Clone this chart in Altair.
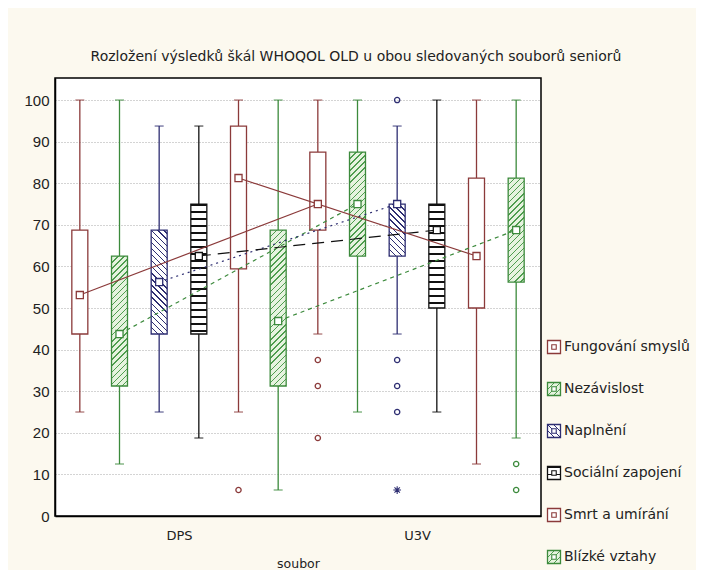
import math
import altair as alt
import pandas as pd

# ---------------- data ----------------
groups = ["DPS", "U3V"]
variables = ["Fungování smyslů", "Nezávislost", "Naplnění",
             "Sociální zapojení", "Smrt a umírání", "Blízké vztahy"]

# six DPS boxes followed by six U3V boxes (same variable order)
box_min = [25, 12.5, 25, 18.75, 25, 6.25, 43.75, 25, 43.75, 25, 12.5, 18.75]
box_q1 = [43.75, 31.25, 43.75, 43.75, 59.4, 31.25, 68.75, 62.5, 62.5, 50, 50, 56.25]
box_med = [53.125, 43.75, 56.25, 62.5, 81.25, 46.875, 75, 75, 75, 68.75, 62.5, 68.75]
box_q3 = [68.75, 62.5, 68.75, 75, 93.75, 68.75, 87.5, 87.5, 75, 75, 81.25, 81.25]
box_max = [100, 100, 93.75, 93.75, 100, 100, 100, 100, 93.75, 100, 100, 100]

outlier_group = ["DPS", "U3V", "U3V", "U3V", "U3V", "U3V", "U3V", "U3V", "U3V", "U3V"]
outlier_var = ["Smrt a umírání", "Fungování smyslů", "Fungování smyslů", "Fungování smyslů",
               "Naplnění", "Naplnění", "Naplnění", "Naplnění", "Blízké vztahy", "Blízké vztahy"]
outlier_val = [6.25, 37.5, 31.25, 18.75, 100, 37.5, 31.25, 25, 12.5, 6.25]

extreme_group = ["U3V"]
extreme_var = ["Naplnění"]
extreme_val = [6.25]

title_text = "Rozložení výsledků škál WHOQOL OLD u obou sledovaných souborů seniorů"
x_title = "soubor"

# ---------------- styles ----------------
RED, GREEN, NAVY, BLACK = "#8b3a3a", "#3c8a3c", "#2e2e72", "#111111"
var_color = [RED, GREEN, NAVY, BLACK, RED, GREEN]
var_pattern = ["none", "up", "down", "horiz", "none", "up"]
var_dash = [None, [4, 4], [2, 4], [12, 7], None, [4, 4]]
pattern_bg = {"none": "#ffffff", "up": "#e6f3df", "down": "#ffffff", "horiz": "#ffffff"}
pattern_fg = {"none": "#ffffff", "up": "#4f9d4f", "down": "#2e2e72", "horiz": "#111111"}

W, H = 486, 438
YMAX = 105.3
PPU = H / YMAX
BOXW = 16

rows = []
for k in range(12):
    g = groups[k // 6]
    vi = k % 6
    rows.append(dict(group=g, var=variables[vi], vi=vi, x=k + 0.5,
                     mn=box_min[k], q1=box_q1[k], med=box_med[k], q3=box_q3[k], mx=box_max[k],
                     col=var_color[vi]))
box_df = pd.DataFrame(rows)
xpos = {(r["group"], r["var"]): r["x"] for r in rows}
cmap = {v: var_color[i] for i, v in enumerate(variables)}

out_df = pd.DataFrame({"group": outlier_group, "var": outlier_var, "val": outlier_val})
out_df["x"] = [xpos[(g, v)] for g, v in zip(out_df.group, out_df["var"])]
out_df["col"] = [cmap[v] for v in out_df["var"]]
ext_df = pd.DataFrame({"group": extreme_group, "var": extreme_var, "val": extreme_val})
ext_df["x"] = [xpos[(g, v)] for g, v in zip(ext_df.group, ext_df["var"])]


def hatch(kind, w, h):
    bg, fg = pattern_bg[kind], pattern_fg[kind]
    if kind == "none":
        return bg
    stops = []
    if kind == "horiz":
        period, lw = 7.0, 1.6
        n = h / period
        x1, y1, x2, y2 = 0, 0, 1e-6, 1
    else:
        period, lw = 4.3, 1.0
        n = (w + h) / math.sqrt(2) / period
        r = w / h
        kk = (r + 1) / (r * r + 1)
        if kind == "up":
            x1, y1, x2, y2 = 0, 0, kk * r, kk
        else:
            x1, y1, x2, y2 = 0, 1, kk * r, 1 - kk
    j = 0
    while j < n:
        a = min(1.0, j / n)
        b = min(1.0, (j + lw / period) / n)
        c = min(1.0, (j + 1) / n)
        stops += [alt.GradientStop(color=fg, offset=a), alt.GradientStop(color=fg, offset=b),
                  alt.GradientStop(color=bg, offset=b), alt.GradientStop(color=bg, offset=c)]
        j += 1
    return alt.LinearGradient(gradient="linear", stops=stops, x1=x1, y1=y1, x2=x2, y2=y2)


xscale = alt.Scale(domain=[0, 12], nice=False, zero=False)
yscale = alt.Scale(domain=[0, YMAX], nice=False, zero=False)

x_axis = alt.Axis(values=[3, 9], title=x_title,
                  labelExpr=f"datum.value < 6 ? '{groups[0]}' : '{groups[1]}'",
                  grid=False, ticks=False, labelFont="DejaVu Sans", labelFontSize=13,
                  labelColor="#222222", labelPadding=13, titleFont="DejaVu Sans",
                  titleFontSize=12.5, titleFontWeight="normal", titleColor="#222222",
                  titlePadding=15, domainColor="#000000", domainWidth=1.5)
y_axis = alt.Axis(values=list(range(0, 101, 10)), title=None, grid=True, gridDash=[1, 2],
                  gridColor="#a8a8a8", gridWidth=1, ticks=False, labelFont="Liberation Sans",
                  labelFontSize=15, labelColor="#222222", labelPadding=6,
                  domainColor="#000000", domainWidth=1.5)


def X():
    return alt.X("x:Q", scale=xscale, axis=x_axis)


def Y(field):
    return alt.Y(f"{field}:Q", scale=yscale, axis=y_axis)


col = alt.Color("col:N", scale=None)

whisk_lo = alt.Chart(box_df).mark_rule(strokeWidth=1.3).encode(x=X(), y=Y("mn"), y2="q1:Q", color=col)
whisk_hi = alt.Chart(box_df).mark_rule(strokeWidth=1.3).encode(x=X(), y=Y("q3"), y2="mx:Q", color=col)
cap_lo = alt.Chart(box_df).mark_tick(orient="horizontal", size=9, thickness=1.3).encode(
    x=X(), y=Y("mn"), color=col)
cap_hi = alt.Chart(box_df).mark_tick(orient="horizontal", size=9, thickness=1.3).encode(
    x=X(), y=Y("mx"), color=col)

box_layers = []
for k, r in box_df.iterrows():
    kind = var_pattern[r["vi"]]
    h = max(2.0, (r["q3"] - r["q1"]) * PPU)
    box_layers.append(
        alt.Chart(box_df.iloc[[k]]).mark_bar(size=BOXW, fill=hatch(kind, BOXW, h),
                                             stroke=r["col"], strokeWidth=1.3).encode(
            x=X(), y=Y("q1"), y2="q3:Q"))

line_layers = []
for vi, v in enumerate(variables):
    kw = dict(color=var_color[vi], strokeWidth=1.2)
    if var_dash[vi]:
        kw["strokeDash"] = var_dash[vi]
    line_layers.append(alt.Chart(box_df[box_df["var"] == v]).mark_line(**kw).encode(
        x=X(), y=Y("med")))

med_layer = alt.Chart(box_df).mark_point(shape="square", size=50, filled=True, fill="white",
                                         strokeWidth=1.3, opacity=1).encode(
    x=X(), y=Y("med"), stroke=alt.Stroke("col:N", scale=None))

out_layer = alt.Chart(out_df).mark_point(shape="circle", size=28, filled=False, strokeWidth=1.3,
                                         opacity=1).encode(x=X(), y=Y("val"), color=col)

asterisk = "M-1,0L1,0M0,-1L0,1M-0.7,-0.7L0.7,0.7M-0.7,0.7L0.7,-0.7"
ext_layer = alt.Chart(ext_df).mark_point(shape=asterisk, size=60, filled=False, strokeWidth=1.1,
                                         color=NAVY, opacity=1).encode(x=X(), y=Y("val"))

legend_layers = []
for i, v in enumerate(variables):
    yp = 269 + 42 * i
    kind = var_pattern[i]
    ldf = pd.DataFrame({"t": [v]})
    legend_layers.append(alt.Chart(ldf).mark_point(shape="square", size=169, filled=True,
                                                   fill=hatch(kind, 13, 13), stroke=var_color[i],
                                                   strokeWidth=1.3, opacity=1).encode(
        x=alt.value(499), y=alt.value(yp)))
    legend_layers.append(alt.Chart(ldf).mark_point(shape="square", size=20, filled=True,
                                                   fill="white", stroke=var_color[i],
                                                   strokeWidth=1.1, opacity=1).encode(
        x=alt.value(499), y=alt.value(yp)))
    legend_layers.append(alt.Chart(ldf).mark_text(align="left", baseline="middle",
                                                  font="DejaVu Sans", fontSize=14,
                                                  color="#222222").encode(
        x=alt.value(509), y=alt.value(yp), text="t:N"))

chart = alt.layer(
    whisk_lo, whisk_hi, cap_lo, cap_hi, *box_layers, *line_layers,
    med_layer, out_layer, ext_layer, *legend_layers
).properties(
    width=W, height=H,
    title=alt.TitleParams(title_text, font="DejaVu Sans", fontSize=14, fontWeight="normal",
                          color="#222222", anchor="middle", dx=58, offset=14),
    autosize="none",
    padding={"left": 47, "top": 70, "right": 155, "bottom": 54},
    background="#fcf9ef",
).configure_view(fill="white", stroke="#000000", strokeWidth=1.5)

chart.save("out.html", embed_options={"renderer": "svg", "actions": False})
